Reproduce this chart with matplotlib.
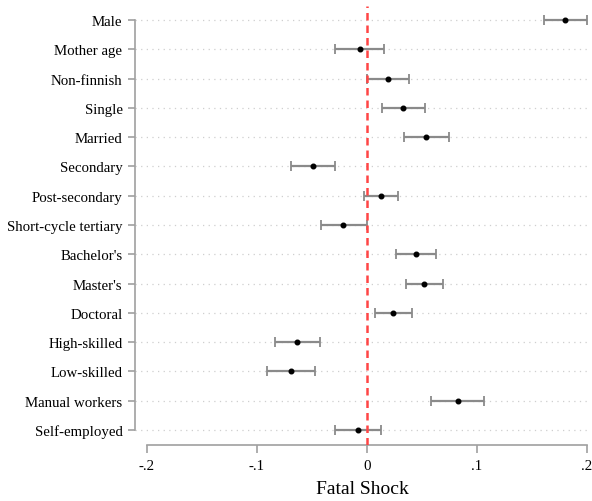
import numpy as np
import matplotlib.pyplot as plt

# coefficients and 95% CIs
labels = ["Male", "Mother age", "Non-finnish", "Single", "Married",
          "Secondary", "Post-secondary", "Short-cycle tertiary",
          "Bachelor's", "Master's", "Doctoral", "High-skilled",
          "Low-skilled", "Manual workers", "Self-employed"]
coef = [0.180, -0.0067, 0.0188, 0.033, 0.054,
        -0.049, 0.0127, -0.0215,
        0.0445, 0.052, 0.024, -0.0636,
        -0.069, 0.0824, -0.0085]
lo = [0.161, -0.0288, 0.0, 0.0133, 0.034,
      -0.069, -0.0024, -0.042,
      0.0267, 0.0355, 0.007, -0.084,
      -0.091, 0.058, -0.029]
hi = [0.1997, 0.0155, 0.0385, 0.0527, 0.0745,
      -0.0288, 0.028, 0.0,
      0.0624, 0.069, 0.041, -0.043,
      -0.047, 0.106, 0.0124]
xticks = [-0.2, -0.1, 0, 0.1, 0.2]
xticklabels = ["-.2", "-.1", "0", ".1", ".2"]

plt.rcParams['font.family'] = ['Liberation Serif', 'DejaVu Serif']

coef = np.array(coef)
lo = np.array(lo)
hi = np.array(hi)
ypos = np.arange(len(labels))

fig = plt.figure(figsize=(5.92, 5.02), dpi=100)
ax = fig.add_axes([135/592, 56/502, 455/592, 439/502])

for y in ypos:
    ax.axhline(y, color='#cfcfcf', lw=0.9, ls=(0, (1, 3.5)), zorder=0)

ax.errorbar(coef, ypos, xerr=[coef - lo, hi - coef], fmt='none',
            ecolor='#8a8a8a', elinewidth=1.6, capsize=3.5, capthick=1.3, zorder=2)
ax.plot(coef, ypos, 'o', color='black', ms=3.3, zorder=3)
ax.axvline(0, color='#ff4545', lw=1.8, ls=(0, (3, 2)), zorder=4)

ax.set_xlim(-0.2109, 0.2027)
ax.set_ylim(14.512, -0.478)
ax.set_yticks(ypos)
ax.set_yticklabels(labels, fontsize=10.7)
ax.set_xticks(xticks)
ax.set_xticklabels(xticklabels, fontsize=10.7)
ax.set_xlabel("Fatal Shock", fontsize=14, labelpad=6)

for s in ['top', 'right']:
    ax.spines[s].set_visible(False)
ax.spines['left'].set_bounds(0, len(labels) - 1)
ax.spines['bottom'].set_bounds(-0.2, 0.2)
for s in ['left', 'bottom']:
    ax.spines[s].set_color('#a0a0a0')
    ax.spines[s].set_linewidth(1.2)
ax.tick_params(axis='both', color='#a0a0a0', width=1.2)
ax.tick_params(axis='y', length=5, pad=4)
ax.tick_params(axis='x', length=6, pad=4)

fig.savefig("out.png", dpi=100)
